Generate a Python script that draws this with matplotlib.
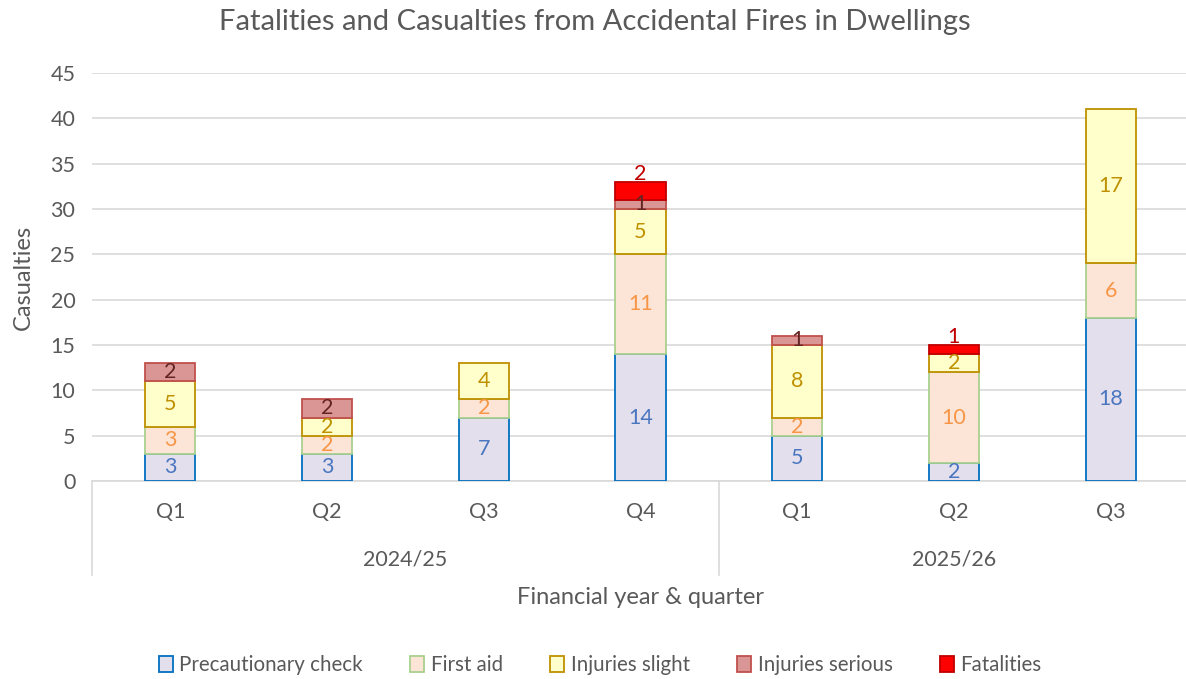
import numpy as np
import matplotlib.pyplot as plt
from matplotlib.patches import Patch

plt.rcParams['font.family'] = ['Lato', 'DejaVu Sans']

quarters = ['Q1', 'Q2', 'Q3', 'Q4', 'Q1', 'Q2', 'Q3']
years = ['2024/25', '2025/26']
year_sizes = [4, 3]

series_names = ['Precautionary check', 'First aid', 'Injuries slight',
                'Injuries serious', 'Fatalities']
precautionary = [3, 3, 7, 14, 5, 2, 18]
first_aid = [3, 2, 2, 11, 2, 10, 6]
injuries_slight = [5, 2, 4, 5, 8, 2, 17]
injuries_serious = [2, 2, 0, 1, 1, 0, 0]
fatalities = [0, 0, 0, 2, 0, 1, 0]

fills = ['#E4DFEC', '#FCE4D6', '#FFFFCC', '#DA9694', '#FF0000']
edges = ['#0070C0', '#A9D08E', '#BF9000', '#C0504D', '#C00000']
label_colors = ['#4A76C0', '#F79646', '#BF9000', '#632523', '#C00000']

grey = '#595959'
fig = plt.figure(figsize=(11.86, 6.79), dpi=100)
ax = fig.add_axes([92 / 1186, 1 - 481 / 679, 1097 / 1186, 408 / 679])

data = [precautionary, first_aid, injuries_slight, injuries_serious, fatalities]
x = np.arange(len(quarters))
bottom = np.zeros(len(quarters))
for k, vals in enumerate(data):
    vals = np.array(vals, dtype=float)
    keep = vals > 0
    ax.bar(x[keep], vals[keep], 0.32, bottom=bottom[keep], color=fills[k],
           edgecolor=edges[k], linewidth=1.3, zorder=3)
    for i, v in enumerate(vals):
        if v == 0:
            continue
        if k == 4:
            # fatalities label sits on top of the stack
            ax.annotate(f'{int(v)}', (x[i], bottom[i] + v), xytext=(0, -1.5),
                        textcoords='offset points', ha='center', va='bottom',
                        fontsize=15.5, color=label_colors[k], zorder=4)
        else:
            ax.text(x[i], bottom[i] + v / 2, f'{int(v)}', ha='center',
                    va='center', fontsize=15.5, color=label_colors[k], zorder=4)
    bottom += vals

ax.set_xlim(-0.5, len(quarters) - 0.5)
ax.set_ylim(0, 45)
ax.set_yticks(range(0, 46, 5))
ax.yaxis.grid(True, color='#D9D9D9', linewidth=1.2, zorder=0)
ax.set_axisbelow(True)
for s in ['top', 'right', 'left']:
    ax.spines[s].set_visible(False)
ax.spines['bottom'].set_color('#D9D9D9')
ax.spines['bottom'].set_linewidth(1.2)
ax.tick_params(axis='y', length=0, labelsize=15.5, labelcolor=grey, pad=12)
ax.set_xticks([])
ax.set_ylabel('Casualties', fontsize=17, color=grey, labelpad=12)

# two level category axis
trans = ax.get_xaxis_transform()
for i, q in enumerate(quarters):
    ax.text(x[i], -31 / 408, q, transform=trans, ha='center', va='center',
            fontsize=15.5, color=grey)
start = 0
for yr, n in zip(years, year_sizes):
    ax.text(start + (n - 1) / 2, -79 / 408, yr, transform=trans, ha='center',
            va='center', fontsize=15.5, color=grey)
    start += n
seps = [-0.5, 3.5, len(quarters) - 0.5]
for s in seps:
    ax.plot([s, s], [0, -94 / 408], transform=trans, color='#D9D9D9',
            linewidth=1.2, clip_on=False)

ax.text(0.5 * (len(quarters) - 1), -116 / 408, 'Financial year & quarter',
        transform=trans, ha='center', va='center', fontsize=17, color=grey)

fig.text(595 / 1186, 1 - 22 / 679,
         'Fatalities and Casualties from Accidental Fires in Dwellings',
         ha='center', va='center', fontsize=21, color=grey)

handles = [Patch(facecolor=fills[k], edgecolor=edges[k], linewidth=1.3,
                 label=series_names[k]) for k in range(5)]
fig.legend(handles=handles, loc='center', bbox_to_anchor=(600 / 1186, 1 - 665 / 679),
           ncol=5, frameon=False, fontsize=14.8, handlelength=0.7,
           handleheight=0.8, handletextpad=0.3, columnspacing=2.3,
           labelcolor=grey)

fig.savefig('out.png', dpi=100)
